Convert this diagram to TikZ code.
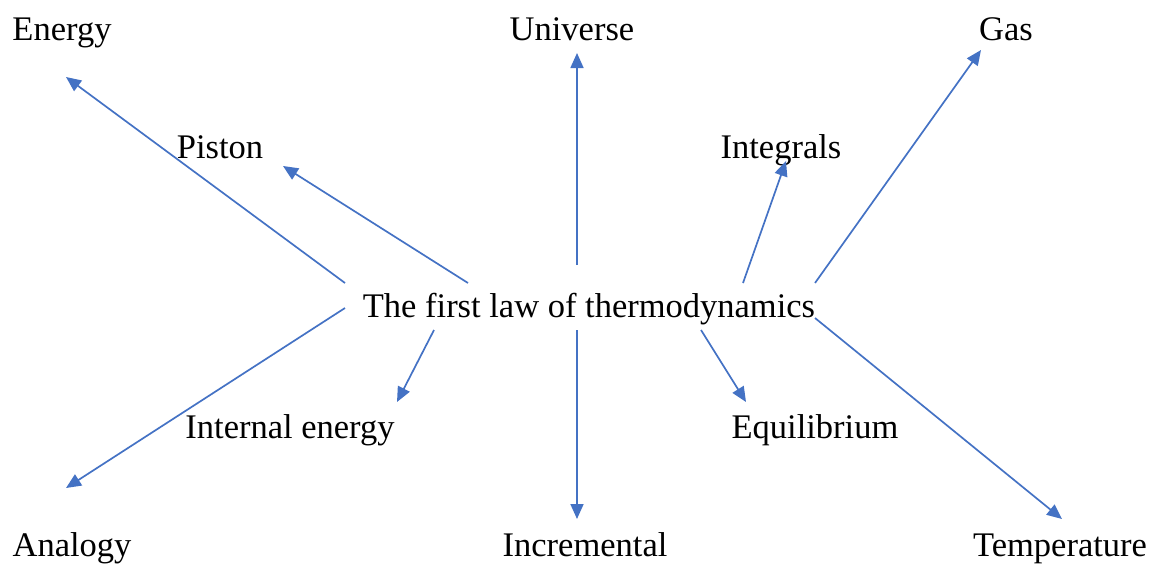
\documentclass[tikz,border=0pt]{standalone}
\usepackage{fontspec}
\setmainfont{Liberation Serif}
\usepackage{tikz}
\usetikzlibrary{arrows.meta}
\definecolor{LinkBlue}{RGB}{68,114,196}

\begin{document}
\begin{tikzpicture}[x=1pt, y=-1pt,
    term/.style={inner sep=0pt, anchor=base,
                 font=\fontsize{34.5}{40}\selectfont},
    link/.style={draw=LinkBlue, line width=1.7pt,
                 -{Triangle[length=15pt, width=13pt]}}]
  \useasboundingbox (0,0) rectangle (1162,563);

  % terms
  \node[term] (law)       at (589,317) {The first law of thermodynamics};
  \node[term] (energy)    at (62,40)   {Energy};
  \node[term] (universe)  at (572,40)  {Universe};
  \node[term] (gas)       at (1006,40) {Gas};
  \node[term] (piston)    at (220,158) {Piston};
  \node[term] (integrals) at (781,158) {Integrals};
  \node[term] (internal)  at (290,438) {Internal energy};
  \node[term] (equil)     at (815,438) {Equilibrium};
  \node[term] (analogy)   at (72,556)  {Analogy};
  \node[term] (incr)      at (585,556) {Incremental};
  \node[term] (temp)      at (1060,556) {Temperature};

  % arrow ends
  \coordinate (energy-from)    at (345,283);
  \coordinate (energy-to)      at (66,77);
  \coordinate (piston-from)    at (468,283);
  \coordinate (piston-to)      at (283,166);
  \coordinate (universe-from)  at (577,265);
  \coordinate (universe-to)    at (577,53);
  \coordinate (integrals-from) at (743,283);
  \coordinate (integrals-to)   at (786,161);
  \coordinate (gas-from)       at (815,283);
  \coordinate (gas-to)         at (981,50);
  \coordinate (analogy-from)   at (345,308);
  \coordinate (analogy-to)     at (66,488);
  \coordinate (internal-from)  at (434,330);
  \coordinate (internal-to)    at (397,402);
  \coordinate (incr-from)      at (577,330);
  \coordinate (incr-to)        at (577,519);
  \coordinate (equil-from)     at (701,330);
  \coordinate (equil-to)       at (746,402);
  \coordinate (temp-from)      at (815,318);
  \coordinate (temp-to)        at (1062,519);

  \foreach \t in {energy,piston,universe,integrals,gas,analogy,internal,incr,equil,temp}
    \draw[link] (\t-from) -- (\t-to);
\end{tikzpicture}
\end{document}
